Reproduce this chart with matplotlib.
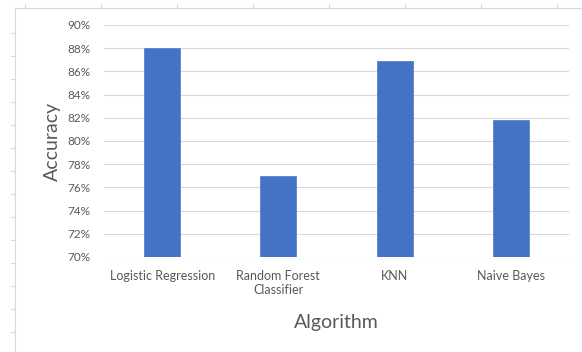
import matplotlib.pyplot as plt
from matplotlib.lines import Line2D
from matplotlib.ticker import PercentFormatter

algorithms = ["Logistic Regression", "Random Forest\nClassifier", "KNN", "Naive Bayes"]
accuracy = [88.0, 77.0, 86.9, 81.8]
yticks = [70, 72, 74, 76, 78, 80, 82, 84, 86, 88, 90]

plt.rcParams['font.family'] = ['Lato', 'DejaVu Sans']
text_col = "#595959"
grid_col = "#D9D9D9"

fig = plt.figure(figsize=(5.82, 3.52), dpi=100)
ax = fig.add_axes([104 / 582, 1 - 257 / 352, 465 / 582, 232 / 352])

# faint spreadsheet cell borders behind the chart
W, H = 582, 352
fig.add_artist(Line2D([15 / W, 1], [1 - 8 / H] * 2, color=grid_col, lw=0.8))
fig.add_artist(Line2D([15 / W] * 2, [0, 1 - 8 / H], color=grid_col, lw=0.8))
for x in range(25, W, 76):
    fig.add_artist(Line2D([x / W] * 2, [1 - 8 / H, 1 - 4 / H], color=grid_col, lw=0.8))
for y in range(33, H, 23):
    fig.add_artist(Line2D([11 / W, 15 / W], [1 - y / H] * 2, color=grid_col, lw=0.8))

x = range(len(algorithms))
ax.bar(x, accuracy, width=0.31, color="#4472C4", edgecolor="#5B84CC", linewidth=0.6, zorder=3)

ax.set_xlim(-0.5, len(algorithms) - 0.5)
ax.set_ylim(70, 90)
ax.set_yticks(yticks)
ax.yaxis.set_major_formatter(PercentFormatter(decimals=0))
ax.set_xticks(list(x))
ax.set_xticklabels(algorithms, fontsize=9, linespacing=1.2)
ax.grid(axis="y", color=grid_col, linewidth=0.8, zorder=0)
for s in ax.spines.values():
    s.set_visible(False)
ax.tick_params(length=0, colors=text_col)
ax.tick_params(axis="y", labelsize=8.5, pad=10)
ax.tick_params(axis="x", pad=9)

ax.set_ylabel("Accuracy", fontsize=14, color=text_col, labelpad=4)
ax.set_xlabel("Algorithm", fontsize=14, color=text_col, labelpad=13)

fig.savefig("out.png", dpi=100)
